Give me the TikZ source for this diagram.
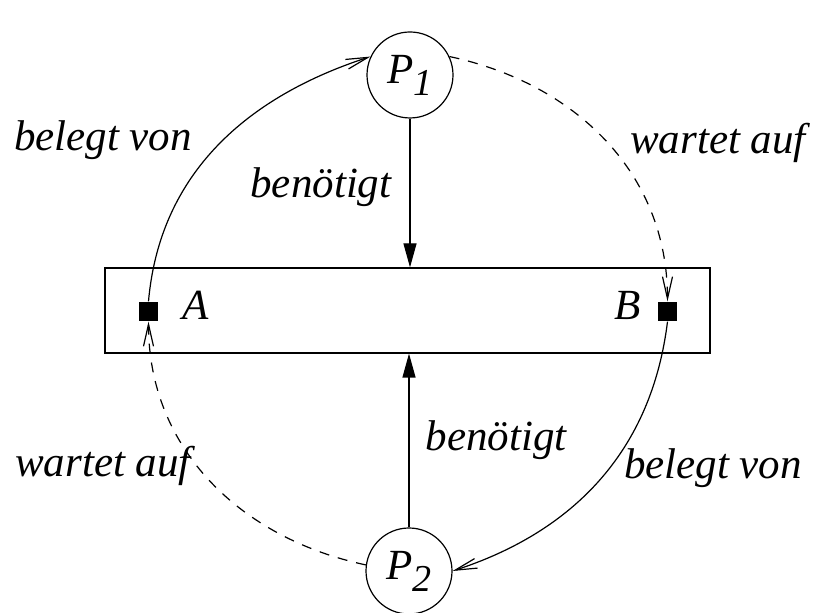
\documentclass[tikz,border=0pt]{standalone}
\usepackage{fontspec}
\setmainfont{Liberation Serif}
\usepackage{tikz}
\usetikzlibrary{arrows.meta, positioning}

\newcommand{\proc}[1]{P\kern-0.5pt\raisebox{-6pt}{\fontsize{19}{22}\selectfont #1}}

\begin{document}
\begin{tikzpicture}[
    x=0.5pt, y=0.5pt,
    line width=0.6pt,
    txt/.style   = {font=\fontsize{21.5}{26}\selectfont\itshape, inner sep=0pt},
    proc/.style  = {circle, draw, minimum size=43pt, inner sep=0pt, txt},
    res/.style   = {rectangle, draw, minimum width=302.5pt, minimum height=42.5pt, inner sep=0pt},
    inst/.style  = {rectangle, fill=black, minimum size=9.5pt, inner sep=0pt},
    need/.style  = {-{Triangle[length=12pt, width=6.5pt]}},
    held/.style  = {-{Straight Barb[length=11pt, width=5pt]}},
    wait/.style  = {held, dash pattern=on 5pt off 4.5pt}
]
\useasboundingbox (0,0) rectangle (814,613);

%% Processes and the resource box
\node[proc] (p1)  at (410,538) {\proc{1}};
\node[proc] (p2)  at (409,42)  {\proc{2}};
\node[res]  (box) at (407.5,302.5) {};

%% Resource instances
\node[inst] (a) at (148.5,301.5) {};
\node[inst] (b) at (667.5,301.5) {};
\node[txt]  (la) at (196,308) {A};
\node[txt]  (lb) at (628,308) {B};

%% Requests
\draw[need] (p1) -- node[txt, left=9pt, yshift=3pt]{benötigt} (p1 |- box.north);
\draw[need] (p2) -- node[txt, right=8pt]{benötigt} (p2 |- box.south);

%% Holding / waiting arcs
\draw[held] (a.north) to[out=85, in=198] (p1.155);
\draw[wait] (p1.25)  to[out=-12, in=90] (b.north);
\draw[held] (b.south) to[out=-97, in=18] (p2.east);
\draw[wait] (p2.172) to[out=168, in=-90] (a.south);

%% Arc labels
\node[txt] (bv1) at (103,473) {belegt von};
\node[txt] (wa1) at (718,470) {wartet auf};
\node[txt] (wa2) at (103,147) {wartet auf};
\node[txt] (bv2) at (713,145) {belegt von};

\end{tikzpicture}
\end{document}
